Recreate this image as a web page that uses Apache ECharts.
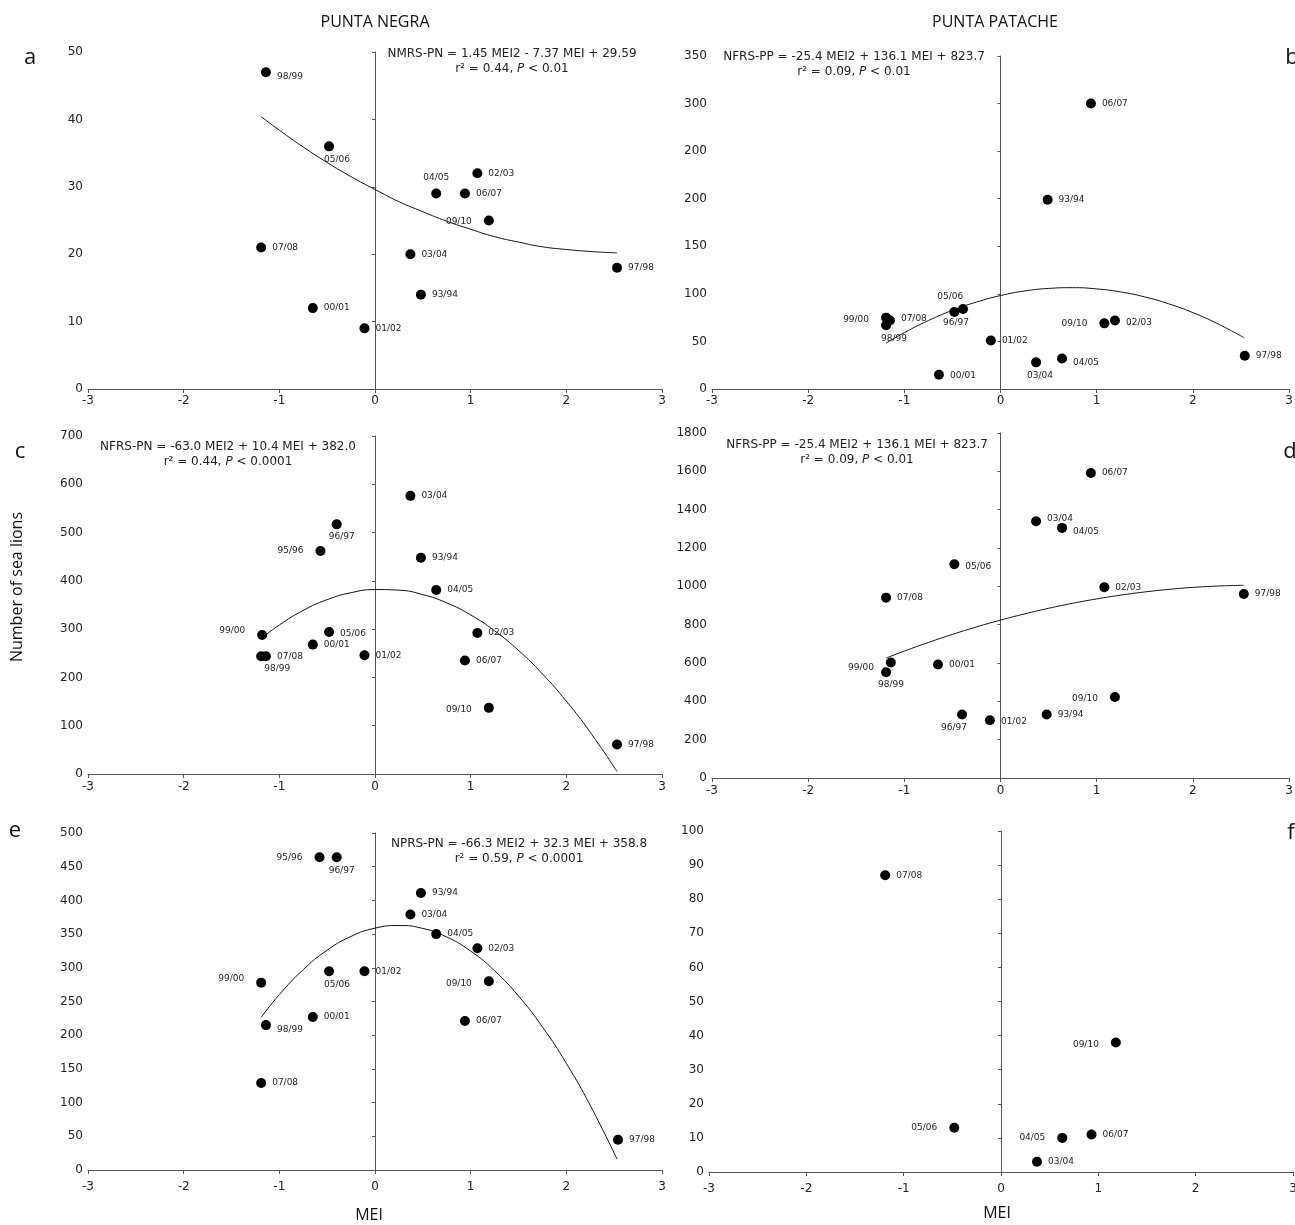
<!DOCTYPE html>
<html>
<head>
<meta charset="utf-8">
<script src="https://cdn.jsdelivr.net/npm/echarts@6/dist/echarts.min.js"></script>
<style>
html,body{margin:0;padding:0;background:#fff;}
#chart{width:1295px;height:1225px;}
</style>
</head>
<body>
<div id="chart"></div>
<script>
// ---------- DATA ----------
const xTicks = [-3, -2, -1, 0, 1, 2, 3];
const bYTickLabels = ['0', '50', '100', '150', '200', '200', '300', '350'];

// Panel a: NMRS Punta Negra
const aYears = ['98/99','05/06','02/03','04/05','06/07','09/10','07/08','03/04','97/98','93/94','00/01','01/02'];
const aMEI   = [-1.14, -0.48, 1.07, 0.64, 0.94, 1.19, -1.19, 0.37, 2.53, 0.48, -0.65, -0.11];
const aCount = [47, 36, 32, 29, 29, 25, 21, 20, 18, 14, 12, 9];

// Panel b: Punta Patache
const bYears = ['06/07','93/94','05/06','96/97','99/00','07/08','98/99','09/10','02/03','01/02','03/04','04/05','00/01','97/98'];
const bMEI   = [0.94, 0.49, -0.48, -0.39, -1.19, -1.15, -1.19, 1.08, 1.19, -0.10, 0.37, 0.64, -0.64, 2.54];
const bCount = [300, 199, 81, 84, 75, 72, 67, 69, 72, 51, 28, 32, 15, 35];

// Panel c: NFRS Punta Negra
const cYears = ['03/04','96/97','95/96','93/94','04/05','99/00','05/06','02/03','00/01','07/08','98/99','01/02','06/07','09/10','97/98'];
const cMEI   = [0.37, -0.40, -0.57, 0.48, 0.64, -1.18, -0.48, 1.07, -0.65, -1.14, -1.19, -0.11, 0.94, 1.19, 2.53];
const cCount = [576, 517, 462, 448, 381, 288, 294, 292, 268, 244, 244, 246, 235, 137, 61];

// Panel d: NFRS Punta Patache
const dYears = ['06/07','03/04','04/05','05/06','02/03','97/98','07/08','99/00','00/01','98/99','09/10','96/97','93/94','01/02'];
const dMEI   = [0.94, 0.37, 0.64, -0.48, 1.08, 2.53, -1.19, -1.14, -0.65, -1.19, 1.19, -0.40, 0.48, -0.11];
const dCount = [1591, 1340, 1305, 1115, 995, 960, 941, 603, 592, 552, 423, 331, 331, 301];

// Panel e: NPRS Punta Negra
const eYears = ['95/96','96/97','93/94','03/04','04/05','02/03','05/06','01/02','99/00','09/10','00/01','06/07','98/99','07/08','97/98'];
const eMEI   = [-0.58, -0.40, 0.48, 0.37, 0.64, 1.07, -0.48, -0.11, -1.19, 1.19, -0.65, 0.94, -1.14, -1.19, 2.54];
const eCount = [464, 464, 411, 379, 350, 329, 295, 295, 278, 280, 227, 221, 215, 129, 45];

// Panel f: Punta Patache
const fYears = ['07/08','09/10','05/06','06/07','04/05','03/04'];
const fMEI   = [-1.19, 1.18, -0.48, 0.93, 0.63, 0.37];
const fCount = [87, 38, 13, 11, 10, 3];

// Fitted curves
const curveMEI = [-1.19, -1.0, -0.75, -0.5, -0.25, 0, 0.25, 0.5, 0.75, 1.0, 1.25, 1.5, 1.75, 2.0, 2.25, 2.53];
const aCurve = [40.4, 38.4, 35.9, 33.6, 31.5, 29.6, 27.8, 26.3, 24.9, 23.7, 22.6, 21.8, 21.1, 20.7, 20.4, 20.2];
const bCurve = [48.1, 59.2, 71.9, 82.7, 91.4, 98.2, 103.0, 105.7, 106.5, 105.2, 102.0, 96.8, 89.5, 80.3, 69.0, 54.1];
const cCurve = [280.4, 308.6, 338.8, 361.1, 375.5, 382.0, 380.7, 371.5, 354.4, 329.4, 296.6, 255.9, 207.3, 150.8, 86.5, 5.1];
const dCurve = [625.8, 662.2, 707.3, 749.3, 788.1, 823.7, 856.1, 885.4, 911.5, 934.4, 954.1, 970.7, 984.1, 994.3, 1001.3, 1005.5];
const eCurve = [226.5, 260.2, 297.3, 326.1, 346.6, 358.8, 362.7, 358.4, 345.7, 324.8, 295.6, 258.1, 212.3, 158.2, 95.8, 16.1];

// Texts
const eqLine1 = {
  a: 'NMRS-PN = 1.45 MEI2 - 7.37 MEI + 29.59',
  b: 'NFRS-PP = -25.4 MEI2 + 136.1 MEI + 823.7',
  c: 'NFRS-PN = -63.0 MEI2 + 10.4 MEI + 382.0',
  d: 'NFRS-PP = -25.4 MEI2 + 136.1 MEI + 823.7',
  e: 'NPRS-PN = -66.3 MEI2 + 32.3 MEI + 358.8'
};
const eqLine2 = {
  a: ['r² = 0.44, ', 'P', ' < 0.01'],
  b: ['r² = 0.09, ', 'P', ' < 0.01'],
  c: ['r² = 0.44, ', 'P', ' < 0.0001'],
  d: ['r² = 0.09, ', 'P', ' < 0.01'],
  e: ['r² = 0.59, ', 'P', ' < 0.0001']
};
const siteTitles = ['PUNTA NEGRA', 'PUNTA PATACHE'];
const panelLetters = ['a', 'b', 'c', 'd', 'e', 'f'];
const yAxisTitle = 'Number of sea lions';
const xAxisTitle = 'MEI';

// ---------- LAYOUT / STYLE (not data) ----------
const aPos = ['r','b','r','t','r','l','r','r','r','r','r','r'];
const aOff = [[0,4],[8,-2],[0,0],[0,0],[0,0],[-6,1],[0,0],[0,0],[0,0],[0,0],[0,0],[0,0]];
const bPos = ['r','r','t','b','l','r','b','l','r','r','b','r','r','r'];
const bOff = [[0,0],[0,0],[-4,0],[-7,-2],[-6,2],[0,-2],[8,-2],[-6,0],[0,2],[0,0],[4,-2],[0,4],[0,1],[0,0]];
const cPos = ['r','b','l','r','r','l','r','r','r','r','b','r','r','l','r'];
const cOff = [[0,0],[5,-3],[-6,0],[0,0],[0,0],[-6,-4],[0,2],[0,0],[0,0],[0,0],[16,-3],[0,0],[0,0],[-6,2],[0,0]];
const dPos = ['r','r','r','r','r','r','r','l','r','b','l','b','r','r'];
const dOff = [[0,0],[0,-3],[0,4],[0,2],[0,0],[0,0],[0,0],[-6,5],[0,0],[5,-3],[-6,2],[-8,-2],[0,0],[0,1]];
const ePos = ['l','b','r','r','r','r','b','r','l','l','r','r','r','r','r'];
const eOff = [[-6,0],[5,-2],[0,0],[0,0],[0,0],[0,0],[8,-2],[0,0],[-6,-4],[-6,2],[0,0],[0,0],[0,5],[0,0],[0,0]];
const fPos = ['r','l','l','r','l','r'];
const fOff = [[0,0],[-6,2],[-6,0],[0,0],[-6,0],[0,0]];

const grids = [
  {left: 88,  top: 52,  width: 574, height: 337},
  {left: 712, top: 56,  width: 577, height: 333},
  {left: 88,  top: 436, width: 574, height: 338},
  {left: 712, top: 433, width: 577, height: 345},
  {left: 88,  top: 833, width: 574, height: 337},
  {left: 709, top: 831, width: 584, height: 341}
];
const yMax = [50, 350, 700, 1800, 500, 100];
const yInt = [10, 50, 100, 200, 50, 10];
const xLabelMargin = [6, 6, 7, 7, 11, 11];

const AXIS_COLOR = '#555';
const TEXT_COLOR = '#222';
const FONT = 'DejaVu Sans';
const posMap = {r: 'right', l: 'left', t: 'top', b: 'bottom'};

function makeItems(years, mei, counts, pos, off) {
  return years.map((y, i) => ({
    name: y,
    value: [mei[i], counts[i]],
    label: {position: posMap[pos[i]], offset: off[i]}
  }));
}

const panels = [
  makeItems(aYears, aMEI, aCount, aPos, aOff),
  makeItems(bYears, bMEI, bCount, bPos, bOff),
  makeItems(cYears, cMEI, cCount, cPos, cOff),
  makeItems(dYears, dMEI, dCount, dPos, dOff),
  makeItems(eYears, eMEI, eCount, ePos, eOff),
  makeItems(fYears, fMEI, fCount, fPos, fOff)
];
const curves = [aCurve, bCurve, cCurve, dCurve, eCurve, null];

const xAxes = grids.map((g, i) => ({
  gridIndex: i, type: 'value', min: xTicks[0], max: xTicks[xTicks.length - 1], interval: 1,
  axisLine: {show: true, onZero: false, lineStyle: {color: AXIS_COLOR, width: 1}},
  axisTick: {show: true, length: 4, lineStyle: {color: AXIS_COLOR}},
  axisLabel: {fontSize: 12, fontFamily: FONT, color: TEXT_COLOR, margin: xLabelMargin[i],
    formatter: (v) => String(v)},
  splitLine: {show: false}
}));

// two y axes per grid: one carrying the labels at the left edge, one drawn on MEI = 0
const yAxes = [];
grids.forEach((g, i) => {
  yAxes.push({
    gridIndex: i, type: 'value', position: 'left', min: 0, max: yMax[i], interval: yInt[i],
    axisLine: {show: false, onZero: false},
    axisTick: {show: false},
    axisLabel: {
      fontSize: 12, fontFamily: FONT, color: TEXT_COLOR, margin: 5,
      formatter: i === 1 ? (v) => bYTickLabels[Math.round(v / yInt[1])] : (v) => String(v)
    },
    splitLine: {show: false}
  });
  yAxes.push({
    gridIndex: i, type: 'value', position: 'right', min: 0, max: yMax[i], interval: yInt[i],
    axisLine: {show: true, onZero: true, lineStyle: {color: AXIS_COLOR, width: 1}},
    axisTick: {show: true, inside: true, length: 3, lineStyle: {color: AXIS_COLOR}},
    axisLabel: {show: false},
    splitLine: {show: false}
  });
});

const series = [];
panels.forEach((items, i) => {
  if (curves[i]) {
    series.push({
      type: 'line', xAxisIndex: i, yAxisIndex: 2 * i,
      data: curveMEI.map((x, k) => [x, curves[i][k]]),
      smooth: true, symbol: 'none', silent: true,
      lineStyle: {color: '#111', width: 1}, z: 2
    });
  }
  series.push({
    type: 'scatter', xAxisIndex: i, yAxisIndex: 2 * i,
    data: items, symbol: 'circle', symbolSize: 10,
    itemStyle: {color: '#000', opacity: 1},
    label: {show: true, formatter: '{b}', fontSize: 9, fontFamily: FONT, color: TEXT_COLOR, distance: 6},
    z: 3
  });
});

const graphics = [];
function addText(x, y, text, size) {
  graphics.push({
    type: 'text', x: x, y: y,
    style: {text: text, fontSize: size, fontFamily: 'Open Sans', fill: '#111',
      align: 'center', verticalAlign: 'middle'}
  });
}
addText(375, 22, siteTitles[0], 16);
addText(995, 22, siteTitles[1], 16);
const letterPos = [[30, 58], [1292, 58], [20, 452], [1290, 452], [15, 831], [1291, 833]];
panelLetters.forEach((l, i) => addText(letterPos[i][0], letterPos[i][1], l, 22));
addText(369, 1215, xAxisTitle, 16);
addText(997, 1213, xAxisTitle, 16);
graphics.push({
  type: 'text', x: 17, y: 587, rotation: Math.PI / 2,
  style: {text: yAxisTitle, fontSize: 16, fontFamily: 'Open Sans', fill: '#111',
    align: 'center', verticalAlign: 'middle'}
});

const eqPos = {a: [512, 54], b: [854, 57], c: [228, 447], d: [857, 445], e: [519, 844]};
Object.keys(eqPos).forEach((k) => {
  const [x, y] = eqPos[k];
  graphics.push({
    type: 'text', x: x, y: y,
    style: {text: eqLine1[k], fontSize: 12, fontFamily: FONT, fill: TEXT_COLOR, align: 'center', verticalAlign: 'middle'}
  });
  const parts = eqLine2[k];
  graphics.push({
    type: 'text', x: x, y: y + 15,
    style: {
      text: parts[0] + '{i|' + parts[1] + '}' + parts[2],
      fontSize: 12, fontFamily: FONT, fill: TEXT_COLOR, align: 'center', verticalAlign: 'middle',
      rich: {i: {fontStyle: 'italic', fontSize: 12, fontFamily: FONT, fill: TEXT_COLOR}}
    }
  });
});

const chart = echarts.init(document.getElementById('chart'), null, {renderer: 'canvas'});
chart.setOption({
  animation: false,
  backgroundColor: '#fff',
  grid: grids.map(g => Object.assign({containLabel: false, outerBoundsMode: 'none'}, g)),
  xAxis: xAxes,
  yAxis: yAxes,
  series: series,
  graphic: graphics
});
</script>
</body>
</html>
